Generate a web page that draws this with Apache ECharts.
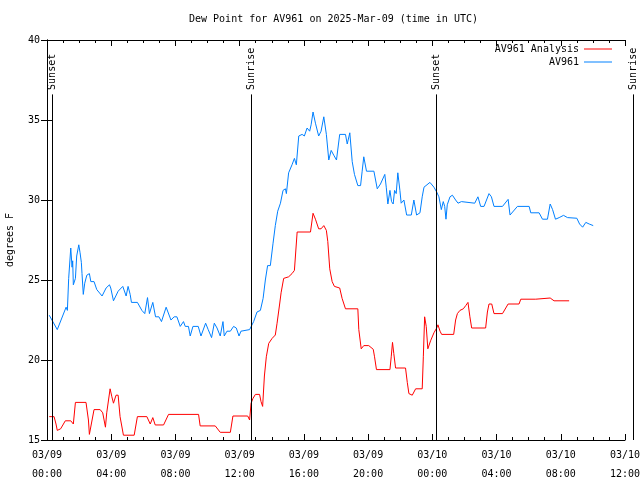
<!DOCTYPE html>
<html><head><meta charset="utf-8">
<script src="https://cdn.jsdelivr.net/npm/echarts@6/dist/echarts.min.js"></script>
<style>html,body{margin:0;padding:0;background:#fff}#c{width:640px;height:480px}</style>
</head><body><div id="c"></div>
<script>
// hours since 2025-03-09 00:00 UTC, dew point (°F)
const analysis = [
[0.14,16.46],[0.44,16.46],[0.56,16.0],[0.64,15.6],[0.85,15.7],[1.14,16.2],[1.48,16.2],[1.64,16.0],
[1.77,17.35],[2.43,17.35],[2.58,16.25],[2.64,15.35],[2.76,15.35],[2.93,16.9],[3.31,16.9],[3.47,16.7],
[3.64,15.8],[3.72,16.7],[3.93,18.2],[4.04,17.7],[4.14,17.3],[4.30,17.8],[4.43,17.8],[4.55,16.46],
[4.76,15.3],[5.43,15.3],[5.63,16.46],[6.22,16.46],[6.43,16.0],[6.59,16.4],[6.74,15.94],[7.26,15.94],
[7.57,16.6],[9.44,16.6],[9.54,15.88],[10.48,15.88],[10.79,15.48],[11.42,15.48],[11.58,16.5],[12.50,16.5],
[12.62,16.25],[12.71,17.3],[12.83,17.6],[12.98,17.85],[13.24,17.85],[13.33,17.4],[13.43,17.1],[13.54,19.0],
[13.66,20.2],[13.81,21.04],[14.02,21.35],[14.22,21.56],[14.33,22.3],[14.49,23.5],[14.58,24.2],[14.74,25.1],
[15.05,25.2],[15.26,25.4],[15.41,25.6],[15.58,28.0],[16.41,28.0],[16.57,29.17],[16.72,28.8],[16.92,28.2],
[17.07,28.2],[17.24,28.4],[17.40,28.1],[17.49,27.4],[17.61,25.7],[17.76,24.9],[17.90,24.6],[18.23,24.5],
[18.38,23.85],[18.59,23.2],[19.36,23.2],[19.42,21.9],[19.57,20.7],[19.73,20.9],[20.04,20.9],[20.32,20.67],
[20.40,20.2],[20.52,19.4],[21.36,19.4],[21.44,20.2],[21.52,21.1],[21.60,20.4],[21.71,19.5],[22.33,19.5],
[22.44,18.6],[22.54,17.9],[22.75,17.8],[22.96,18.2],[23.37,18.2],[23.44,20.2],[23.52,22.7],[23.62,22.1],
[23.72,20.7],[23.89,21.2],[24.10,21.7],[24.27,22.0],[24.35,22.2],[24.48,21.8],[24.58,21.6],[25.33,21.6],
[25.45,22.5],[25.56,22.9],[25.72,23.1],[25.93,23.2],[26.08,23.4],[26.22,23.6],[26.34,22.7],[26.45,22.0],
[27.32,22.0],[27.43,23.0],[27.53,23.5],[27.70,23.5],[27.84,22.9],[28.37,22.9],[28.72,23.5],[29.40,23.5],
[29.51,23.8],[30.44,23.8],[30.55,23.875],[31.34,23.875],[31.58,23.7],[32.52,23.7]
];
const station = [
[0.14,22.8],[0.64,21.9],[1.19,23.3],[1.27,23.1],[1.35,25.1],[1.48,27.0],[1.56,25.8],[1.60,26.2],
[1.64,24.7],[1.77,25.1],[1.85,26.5],[1.98,27.2],[2.06,26.7],[2.14,26.1],[2.18,25.4],[2.26,24.1],
[2.35,24.8],[2.48,25.3],[2.64,25.4],[2.73,24.9],[2.85,25.0],[2.93,24.9],[3.10,24.4],[3.43,24.0],
[3.68,24.5],[3.89,24.7],[3.97,24.5],[4.14,23.7],[4.43,24.3],[4.72,24.6],[4.93,24.0],[5.05,24.6],
[5.18,24.1],[5.26,23.6],[5.63,23.6],[5.91,23.1],[6.09,22.9],[6.26,23.9],[6.38,22.9],[6.59,23.6],
[6.76,22.7],[6.97,22.7],[7.13,22.4],[7.42,23.3],[7.72,22.5],[7.92,22.7],[8.09,22.7],[8.30,22.1],
[8.50,22.4],[8.61,22.1],[8.81,22.1],[8.92,21.5],[9.09,22.1],[9.42,22.1],[9.59,21.5],[9.88,22.3],
[10.04,21.9],[10.25,21.4],[10.42,22.3],[10.59,22.0],[10.79,21.5],[10.96,22.4],[11.04,21.5],[11.21,21.8],
[11.42,21.8],[11.62,22.1],[11.79,22.0],[11.96,21.5],[12.08,21.8],[12.62,21.9],[12.87,22.4],[13.08,23.0],
[13.29,23.1],[13.46,23.85],[13.60,25.0],[13.74,25.9],[13.91,25.9],[14.08,27.3],[14.22,28.4],[14.37,29.3],
[14.54,29.8],[14.70,30.6],[14.85,30.7],[14.91,30.4],[15.05,31.7],[15.26,32.2],[15.41,32.6],[15.53,32.2],
[15.68,34.0],[15.89,34.1],[16.03,34.0],[16.20,34.5],[16.36,34.3],[16.45,34.7],[16.57,35.5],[16.72,34.8],
[16.92,34.0],[17.07,34.3],[17.24,35.2],[17.40,34.1],[17.55,32.5],[17.70,33.1],[17.86,32.8],[18.03,32.5],
[18.23,34.1],[18.59,34.1],[18.70,33.5],[18.86,34.2],[19.01,32.4],[19.15,31.6],[19.36,30.9],[19.53,30.9],
[19.63,31.8],[19.73,32.7],[19.90,31.8],[20.36,31.8],[20.57,30.7],[20.77,31.0],[21.04,31.6],[21.13,30.8],
[21.23,29.75],[21.36,30.6],[21.46,29.9],[21.56,29.75],[21.65,30.6],[21.75,30.4],[21.85,31.7],[21.98,30.6],
[22.06,29.8],[22.23,30.0],[22.40,29.06],[22.69,29.06],[22.85,30.0],[23.02,29.06],[23.23,29.2],[23.37,30.2],
[23.48,30.8],[23.58,30.9],[23.85,31.1],[24.10,30.8],[24.27,30.5],[24.41,30.2],[24.56,29.4],[24.68,29.9],
[24.77,29.6],[24.85,28.8],[24.93,29.7],[25.10,30.2],[25.25,30.3],[25.45,30.0],[25.60,29.8],[25.81,29.9],
[26.64,29.8],[26.84,30.2],[27.01,29.6],[27.22,29.6],[27.53,30.4],[27.68,30.2],[27.84,29.6],[28.37,29.6],
[28.72,30.04],[28.84,29.06],[29.30,29.6],[30.03,29.6],[30.13,29.2],[30.65,29.2],[30.86,28.8],[31.17,28.8],
[31.34,29.75],[31.49,29.4],[31.67,28.8],[31.90,28.9],[32.17,29.04],[32.42,28.9],[33.00,28.86],[33.17,28.5],
[33.36,28.3],[33.56,28.6],[33.77,28.5],[34.02,28.4]
];
const sunTimes = [0.29, 12.71, 24.2, 36.47];
const sunLabels = ['Sunset', 'Sunrise', 'Sunset', 'Sunrise'];
const xTickLabels = ['03/09\n00:00','03/09\n04:00','03/09\n08:00','03/09\n12:00','03/09\n16:00',
  '03/09\n20:00','03/10\n00:00','03/10\n04:00','03/10\n08:00','03/10\n12:00'];
const yTickLabels = ['15','20','25','30','35','40'];

const FONT = 'DejaVu Sans Mono';
const chart = echarts.init(document.getElementById('c'), null, {renderer: 'canvas'});
const axisLine = {show: true, lineStyle: {color: '#000', width: 1}};
const xBase = {
  type: 'value', min: 0, max: 36, interval: 4,
  axisLine, splitLine: {show: false},
  axisTick: {show: true, inside: true, length: 6, lineStyle: {color: '#000'}},
  minorTick: {show: true, splitNumber: 4, length: 3, lineStyle: {color: '#000'}},
  minorSplitLine: {show: false}
};
const yBase = {
  type: 'value', min: 15, max: 40, interval: 5,
  axisLine, splitLine: {show: false},
  axisTick: {show: true, inside: true, length: 6, lineStyle: {color: '#000'}}
};
chart.setOption({
  animation: false,
  backgroundColor: '#fff',
  title: {
    text: 'Dew Point for AV961 on 2025-Mar-09 (time in UTC)',
    left: 189, top: 14, padding: 0,
    textStyle: {fontFamily: FONT, fontSize: 10, fontWeight: 'normal', color: '#000'}
  },
  legend: {
    data: [
      {name: 'AV961 Analysis', icon: 'rect', itemStyle: {color: '#ff0000'}},
      {name: 'AV961', icon: 'rect', itemStyle: {color: '#0080ff'}}
    ],
    orient: 'vertical', align: 'right', right: 28, top: 43, padding: 0,
    itemWidth: 28, itemHeight: 1, itemGap: 1,
    textStyle: {fontFamily: FONT, fontSize: 10, color: '#000', lineHeight: 12}
  },
  grid: {left: 47, right: 15, top: 40, bottom: 40, containLabel: false, outerBoundsMode: 'none'},
  xAxis: [
    Object.assign({}, xBase, {
      position: 'bottom',
      axisLabel: {
        fontFamily: FONT, fontSize: 10, color: '#000', margin: 6, lineHeight: 19,
        formatter: v => xTickLabels[Math.round(v / 4)]
      }
    }),
    Object.assign({}, xBase, {position: 'top', axisLabel: {show: false}})
  ],
  yAxis: [
    Object.assign({}, yBase, {
      position: 'left',
      name: 'degrees F', nameLocation: 'middle', nameGap: 32,
      nameTextStyle: {fontFamily: FONT, fontSize: 10, color: '#000'},
      axisLabel: {
        fontFamily: FONT, fontSize: 10, color: '#000', margin: 7,
        formatter: v => yTickLabels[Math.round((v - 15) / 5)]
      }
    }),
    Object.assign({}, yBase, {position: 'right', axisLabel: {show: false}})
  ],
  series: [
    {
      name: 'AV961 Analysis', type: 'line', data: analysis,
      symbol: 'none', showSymbol: false, color: '#ff0000',
      lineStyle: {color: '#ff0000', width: 1}, z: 3
    },
    {
      name: 'AV961', type: 'line', data: station,
      symbol: 'none', showSymbol: false, color: '#0080ff',
      lineStyle: {color: '#0080ff', width: 1}, z: 3
    },
    {
      name: 'sun', type: 'custom', clip: false, z: 4,
      data: sunTimes.map(t => [t]),
      encode: {x: 0},
      renderItem: function (params, api) {
        const t = api.value(0);
        const p0 = api.coord([t, 15]);
        const p1 = api.coord([t, 36.6]);
        const p2 = api.coord([t, 36.88]);
        const x = Math.round(p0[0]) + 0.5;
        return {
          type: 'group',
          children: [
            {type: 'line', shape: {x1: x, y1: p0[1], x2: x, y2: p1[1]},
             style: {stroke: '#000', lineWidth: 1}},
            {type: 'text', x: x, y: p2[1], rotation: Math.PI / 2,
             style: {text: sunLabels[params.dataIndex], fontFamily: FONT, fontSize: 10,
                     fill: '#000', align: 'left', verticalAlign: 'middle'}}
          ]
        };
      }
    }
  ]
});
</script></body></html>
